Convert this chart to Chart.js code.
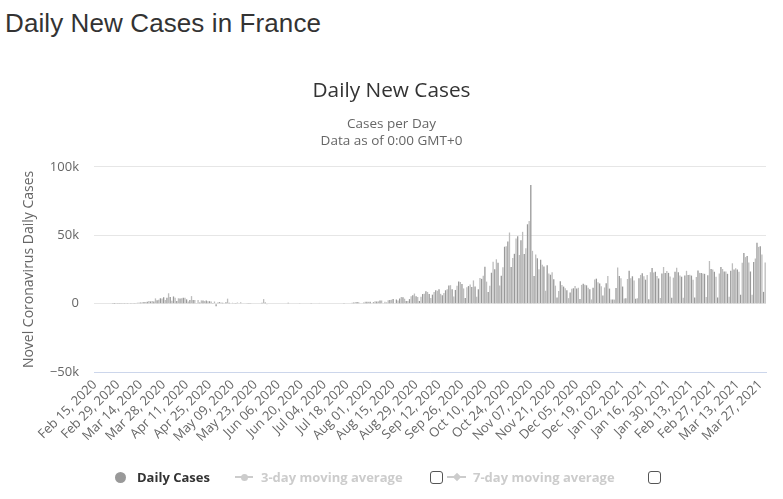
<!DOCTYPE html>
<html>
<head>
<meta charset="utf-8">
<script src="https://cdn.jsdelivr.net/npm/chart.js@4"></script>
<style>
  body { margin: 0; background: #fff; }
  #wrap { position: relative; width: 783px; height: 499px; }
  #pageTitle { position: absolute; left: 5px; top: 10px; margin: 0; font: 26px/26px "Liberation Sans", Arial, sans-serif; color: #333; font-weight: normal; letter-spacing: 0.1px; }
  #chart { position: absolute; left: 0; top: 0; }
  #legend { position: absolute; left: 0; top: 469px; width: 783px; height: 18px; font-family: "Open Sans", sans-serif; font-size: 13px; font-weight: bold; }
  #legend span { position: absolute; }
  .txt { top: 0; line-height: 16px; white-space: nowrap; }
  .dot { width: 11px; height: 11px; border-radius: 50%; top: 3px; }
  .line { height: 2px; top: 7px; }
  .mark { width: 7px; height: 7px; top: 4.5px; border-radius: 50%; }
  .diamond { width: 6px; height: 6px; top: 5px; transform: rotate(45deg); }
  .box { width: 11px; height: 11px; top: 2px; border: 1px solid #555; border-radius: 3px; background: #fff; }
</style>
</head>
<body>
<div id="wrap">
  <h1 id="pageTitle">Daily New Cases in France</h1>
  <canvas id="chart" width="783" height="499"></canvas>
  <div id="legend"></div>
</div>
<script>
// daily new cases, France, Feb 15 2020 .. Mar 30 2021
const feb2020 = [0,0,0,0,0,0,0,0,0,0,0,2,20,19,43];
const mar2020 = [30,61,21,73,138,190,336,177,286,372,497,595,785,838,924,1210,1097,1404,1861,1617,1847,1559,3838,2446,2931,3922,3809,4611,2599,4376,7578];
const apr2020 = [4861,2116,5233,4267,1873,3912,3777,3881,4286,4342,3114,1613,2673,5497,2633,2641,405,2569,785,2383,2256,1827,2207,1653,1773,1537,443,1555,-1900,758];
const may2020 = [1100,794,580,0,1000,3640,629,0,579,80,456,802,0,1100,0,0,0,400,524,110,0,0,0,0,358,0,600,3325,900,-300,0];
const jun2020 = [0,0,0,0,0,0,0,0,0,0,0,600,0,0,0,0,0,0,550,0,0,0,0,0,0,500,0,0,0,0];
const jul2020 = [500,0,0,0,0,0,0,0,0,0,0,0,0,0,0,450,0,0,0,0,600,800,1000,1130,1062,0,0,725,1392,1377,1346];
const aug2020 = [1346,0,1039,1695,1604,1604,2288,2288,0,1397,785,2524,2669,2846,3310,0,3015,2238,3776,4771,4586,3602,1955,1955,3304,5429,6111,7379,5453,4897,1955];
const sep2020 = [4982,7017,7157,8975,8550,7071,4203,6544,8577,9843,9406,10561,7183,6158,7852,9784,10593,13215,13498,10569,5298,10008,13072,16096,15797,14412,11123,4070,11998,12845];
const oct2020 = [13970,12148,16972,12565,5084,10489,18746,18129,20339,26896,16101,8505,12993,22591,30621,25086,32427,29837,13243,20468,26676,41622,42032,45422,52010,26771,33417,36437,47637,49215,35641];
const nov2020 = [46290,52518,36330,40558,58046,60486,86852,38619,20155,35879,33172,25087,32095,28500,27228,9406,28000,22000,21150,22882,17881,13157,4452,9155,16282,13563,12459,11221,9784,4005];
const dec2020 = [8083,10934,11221,12923,11022,11533,3411,13713,14595,13750,13406,11697,10542,3063,11532,17615,18254,15674,14771,12799,5960,11795,14929,20262,11000,3093,2960,2960,11395,26457,20177];
const jan2021 = [18500,12500,3700,4000,18000,24000,18500,20000,17000,3500,3900,18500,21000,22200,20000,17500,21000,3200,23000,26000,22800,23300,20300,18400,4200,22100,26800,22400,23800,22500,19900];
const feb2021 = [4300,19000,23300,26300,22900,20600,19700,4300,20600,24000,21000,21200,20500,17400,4400,19500,24300,22500,22400,22000,21800,4800,20700,31200,25400,25000,23300,19700];
const mar2021 = [4500,22000,26800,25300,23500,23500,21800,5000,24000,29500,25000,25900,25000,23300,6500,29900,37000,34000,34900,30000,23500,6500,30400,33000,44500,41500,42000,36000,8600,30000];

const dailyCases = [].concat(feb2020, mar2020, apr2020, may2020, jun2020, jul2020, aug2020,
  sep2020, oct2020, nov2020, dec2020, jan2021, feb2021, mar2021);

const months = ['Jan','Feb','Mar','Apr','May','Jun','Jul','Aug','Sep','Oct','Nov','Dec'];
const startDay = Date.UTC(2020, 1, 15);
const dates = dailyCases.map(function(_, i){
  const d = new Date(startDay + i*86400000);
  const dd = String(d.getUTCDate()).padStart(2, '0');
  return months[d.getUTCMonth()] + ' ' + dd + ', ' + d.getUTCFullYear();
});
const tickEvery = 14;
const yTicks = [-50000, 0, 50000, 100000];

const barColors = dailyCases.map(function(_, i){ return i % 2 ? '#bdbdbd' : '#999999'; });

const ctx = document.getElementById('chart').getContext('2d');
const chart = new Chart(ctx, {
  type: 'bar',
  data: {
    labels: dates,
    datasets: [
      { label: 'Daily Cases', data: dailyCases, backgroundColor: barColors, borderWidth: 0, barPercentage: 1, categoryPercentage: 0.8 },
      { type: 'line', label: '3-day moving average', data: [], hidden: true, borderColor: '#ccc' },
      { type: 'line', label: '7-day moving average', data: [], hidden: true, borderColor: '#ccc' }
    ]
  },
  options: {
    responsive: false,
    animation: false,
    layout: { padding: { top: 79, right: 17, bottom: 47, left: 17 } },
    plugins: {
      legend: { display: false },
      title: { display: true, text: 'Daily New Cases', color: '#333', font: { family: 'Open Sans', size: 20.8, weight: 'normal' }, padding: { top: 0, bottom: 12 } },
      subtitle: { display: true, text: ['Cases per Day', 'Data as of 0:00 GMT+0'], color: '#666', font: { family: 'Open Sans', size: 13.5, lineHeight: 1.22 }, padding: { top: 0, bottom: 18 } }
    },
    scales: {
      x: {
        grid: { display: false, drawTicks: false },
        border: { display: true, color: '#ccd6eb' },
        ticks: {
          autoSkip: false, minRotation: 45, maxRotation: 45, padding: 5,
          color: '#666', font: { family: 'Open Sans', size: 13 },
          callback: function(v, i){ return i % tickEvery === 0 ? this.getLabelForValue(v) : ''; }
        },
        afterFit: function(s){ s.height = 80; }
      },
      y: {
        min: yTicks[0], max: yTicks[yTicks.length-1],
        afterBuildTicks: function(s){ s.ticks = yTicks.map(function(v){ return { value: v }; }); },
        grid: { color: '#e6e6e6', drawTicks: false },
        border: { display: false },
        ticks: {
          padding: 15, color: '#666', font: { family: 'Open Sans', size: 13 },
          callback: function(v){ return v === 0 ? '0' : (v < 0 ? '\u2212' : '') + Math.abs(v/1000) + 'k'; }
        },
        title: { display: true, text: 'Novel Coronavirus Daily Cases', color: '#666', font: { family: 'Open Sans', size: 14 }, padding: { top: 4, bottom: 0 } },
        afterFit: function(s){ s.width = 77; }
      }
    }
  }
});

// html legend in the highcharts style
const legend = document.getElementById('legend');
function add(cls, left, css, text){
  const el = document.createElement('span');
  el.className = cls;
  el.style.left = left + 'px';
  if(css) el.style.cssText += css;
  if(text) el.textContent = text;
  legend.appendChild(el);
}
const ds = chart.data.datasets;
add('dot', 115, 'background:#999;');
add('txt', 137, 'color:#333;', ds[0].label);
add('line', 235, 'width:18px;background:#ccc;');
add('mark', 240.5, 'background:#ccc;');
add('txt', 261, 'color:#ccc;', ds[1].label);
add('box', 430, '');
add('line', 447, 'width:19px;background:#ccc;');
add('diamond', 453.5, 'background:#ccc;');
add('txt', 473, 'color:#ccc;', ds[2].label);
add('box', 648, '');
</script>
</body>
</html>
